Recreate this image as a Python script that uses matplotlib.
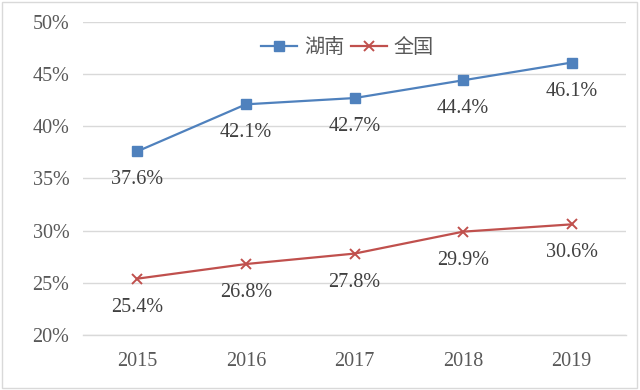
import matplotlib
matplotlib.use("Agg")
import matplotlib.pyplot as plt
from matplotlib.patches import Rectangle

years = ["2015", "2016", "2017", "2018", "2019"]
hunan = [37.6, 42.1, 42.7, 44.4, 46.1]
national = [25.4, 26.8, 27.8, 29.9, 30.6]
yticks = [20, 25, 30, 35, 40, 45, 50]
series_names = ["湖南", "全国"]

serif = ["Liberation Serif", "DejaVu Serif"]
cjk = ["Noto Sans CJK SC", "DejaVu Sans"]
FS = 14.5

fig = plt.figure(figsize=(6.4, 3.9), dpi=100)
ax = fig.add_axes([0.130, 0.141, 0.848, 0.803])

x = list(range(len(years)))
blue = "#4F81BD"
red = "#C0504D"
ax.plot(x, hunan, color=blue, lw=1.6, marker="s", ms=6.5, mfc=blue, mec=blue,
        label=series_names[0], zorder=3)
ax.plot(x, national, color=red, lw=1.6, marker="x", ms=6.5, mew=1.4,
        label=series_names[1], zorder=3)

for xi, v in zip(x, hunan):
    ax.annotate(f"{v:.1f}%", (xi, v), xytext=(0, -20.5), textcoords="offset points",
                ha="center", va="center", fontsize=FS, family=serif, color="#404040")
for xi, v in zip(x, national):
    ax.annotate(f"{v:.1f}%", (xi, v), xytext=(0, -20.5), textcoords="offset points",
                ha="center", va="center", fontsize=FS, family=serif, color="#404040")

ax.set_xlim(-0.5, len(years) - 0.5)
ax.set_ylim(20, 50)
ax.set_yticks(yticks)
ax.set_yticklabels([f"{t}%" for t in yticks], family=serif, fontsize=FS, color="#595959")
ax.set_xticks(x)
ax.set_xticklabels(years, family=serif, fontsize=FS, color="#595959")
ax.tick_params(length=0)
ax.tick_params(axis="y", pad=10)
ax.tick_params(axis="x", pad=12)
ax.grid(axis="y", color="#D9D9D9", lw=1.0)
ax.set_axisbelow(True)
for s in ["top", "right", "left"]:
    ax.spines[s].set_visible(False)
ax.spines["bottom"].set_color("#D9D9D9")
ax.spines["bottom"].set_linewidth(1.0)

leg = ax.legend(loc="center", bbox_to_anchor=(0.487, 0.917), ncol=2, frameon=False,
                prop={"family": cjk, "size": FS, "weight": "light"}, handlelength=1.8,
                columnspacing=0.3, handletextpad=0.35, borderpad=0, borderaxespad=0)
for t in leg.get_texts():
    t.set_color("#595959")

fig.patches.append(Rectangle((0.003, 0.004), 0.992, 0.99, transform=fig.transFigure,
                             fill=False, edgecolor="#D9D9D9", lw=1.0))

fig.savefig("out.png", dpi=100)
